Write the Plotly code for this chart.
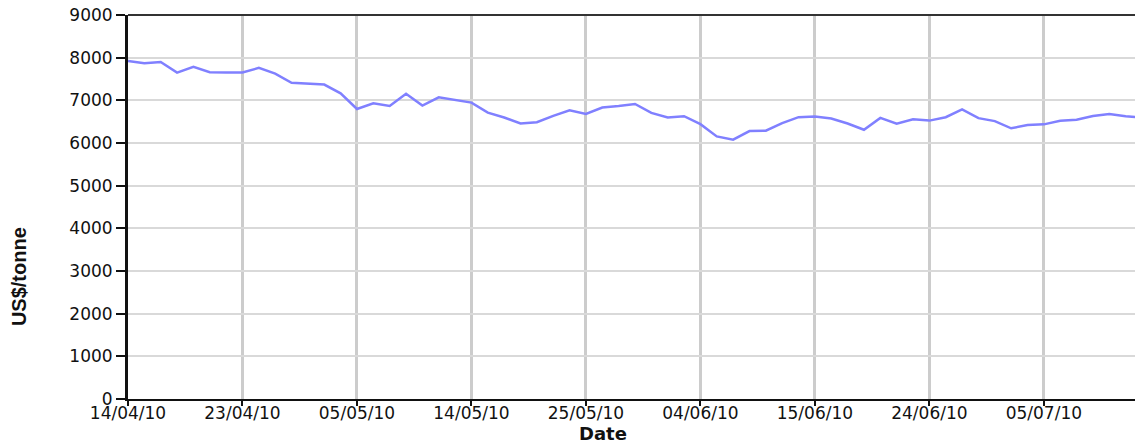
import plotly.graph_objects as go

dates = [
    "14/04/10", "15/04/10", "16/04/10", "19/04/10", "20/04/10", "21/04/10", "22/04/10",
    "23/04/10", "26/04/10", "27/04/10", "28/04/10", "29/04/10", "30/04/10", "04/05/10",
    "05/05/10", "06/05/10", "07/05/10", "10/05/10", "11/05/10", "12/05/10", "13/05/10",
    "14/05/10", "17/05/10", "18/05/10", "19/05/10", "20/05/10", "21/05/10", "24/05/10",
    "25/05/10", "26/05/10", "27/05/10", "28/05/10", "01/06/10", "02/06/10", "03/06/10",
    "04/06/10", "07/06/10", "08/06/10", "09/06/10", "10/06/10", "11/06/10", "14/06/10",
    "15/06/10", "16/06/10", "17/06/10", "18/06/10", "21/06/10", "22/06/10", "23/06/10",
    "24/06/10", "25/06/10", "28/06/10", "29/06/10", "30/06/10", "01/07/10", "02/07/10",
    "05/07/10", "06/07/10", "07/07/10", "08/07/10", "09/07/10", "12/07/10", "13/07/10",
]

prices = [
    7920, 7867, 7900, 7651, 7783, 7659, 7651,
    7651, 7760, 7628, 7411, 7395, 7370, 7163,
    6798, 6930, 6868, 7155, 6876, 7070, 7008,
    6946, 6713, 6597, 6457, 6488, 6636, 6767,
    6682, 6830, 6868, 6915, 6705, 6597, 6628,
    6442, 6155, 6078, 6279, 6287, 6465, 6605,
    6620, 6574, 6457, 6310, 6589, 6450, 6558,
    6525, 6605, 6789, 6582, 6513, 6345, 6421,
    6437, 6520, 6543, 6635, 6681, 6628, 6598,
]

x_ticks = ["14/04/10", "23/04/10", "05/05/10", "14/05/10", "25/05/10",
           "04/06/10", "15/06/10", "24/06/10", "05/07/10"]
y_ticks = [0, 1000, 2000, 3000, 4000, 5000, 6000, 7000, 8000, 9000]

fig = go.Figure()
fig.add_trace(go.Scatter(
    x=dates, y=prices, mode="lines",
    line=dict(color="#8080ff", width=2.5),
    showlegend=False,
))

tick_font = dict(family="DejaVu Sans, Verdana, sans-serif", size=17, color="#111111")

# page body has an 8px default margin, so the figure is drawn 8px smaller
fig.update_layout(
    width=1135, height=437,
    margin=dict(l=120, r=1, t=7, b=46, autoexpand=False),
    paper_bgcolor="white", plot_bgcolor="white",
    xaxis=dict(
        type="category", categoryorder="array", categoryarray=dates,
        range=[0, len(dates) - 1], automargin=False,
        tickmode="array", tickvals=x_ticks, ticktext=x_ticks,
        showgrid=True, gridcolor="#cccccc", gridwidth=3,
        showline=True, linecolor="#111111", linewidth=2,
        ticks="outside", ticklen=5, tickcolor="#111111", tickwidth=2,
        ticklabelstandoff=-7, ticklabeloverflow="allow",
        tickfont=tick_font, zeroline=False,
    ),
    yaxis=dict(
        range=[0, 9000], automargin=False,
        tickmode="array", tickvals=y_ticks,
        showgrid=True, gridcolor="#d9d9d9", gridwidth=2,
        showline=True, linecolor="#111111", linewidth=3,
        ticks="outside", ticklen=9, tickcolor="#111111", tickwidth=1.5,
        ticklabeloverflow="allow",
        tickfont=tick_font, zeroline=False,
    ),
    shapes=[
        dict(type="line", xref="paper", yref="paper", x0=0, x1=1, y0=1, y1=1,
             line=dict(color="#333333", width=2)),
        dict(type="line", xref="paper", yref="paper", x0=1, x1=1, y0=0, y1=1,
             line=dict(color="#333333", width=2)),
    ],
    annotations=[
        dict(text="<b>US$/tonne</b>", xref="paper", yref="paper",
             x=-0.1075, y=0.32, xanchor="center", yanchor="middle",
             textangle=-90, showarrow=False,
             font=dict(family="Liberation Sans Narrow, Arial Narrow, sans-serif",
                       size=20, color="#111111")),
        dict(text="<b>Date</b>", xref="paper", yref="paper",
             x=0.468, y=-0.091, xanchor="center", yanchor="middle",
             showarrow=False,
             font=dict(family="DejaVu Sans, Verdana, sans-serif", size=18, color="#111111")),
    ],
)

fig.write_html("out.html")
